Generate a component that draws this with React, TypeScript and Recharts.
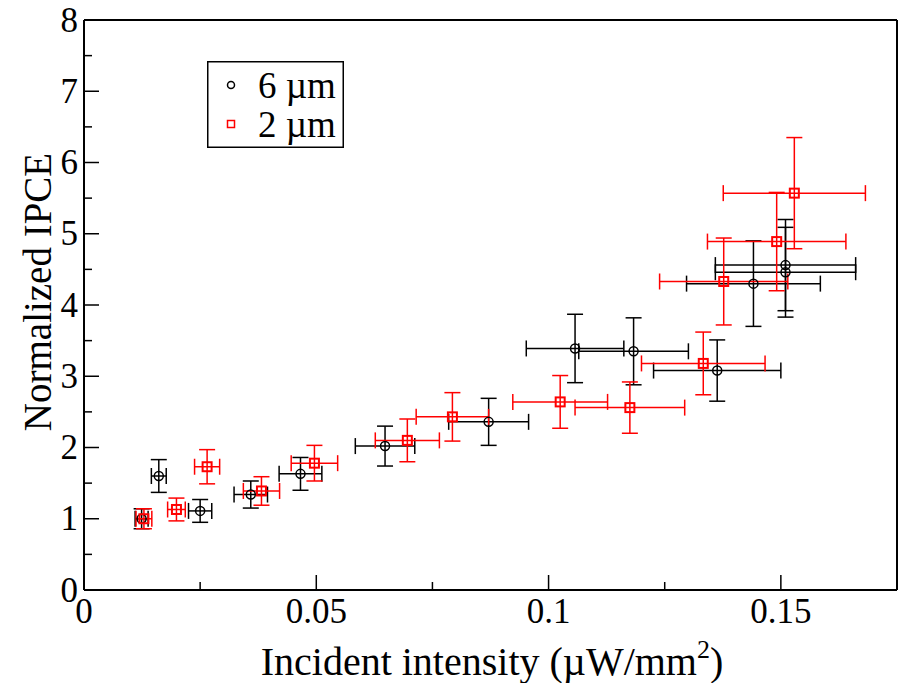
import { ScatterChart, Scatter, XAxis, YAxis, ErrorBar, Legend } from 'recharts';

// 6 µm samples
const sixX = [0.0124, 0.0161, 0.025, 0.0359, 0.0466, 0.0648, 0.0871, 0.1057, 0.1183, 0.1363, 0.1441, 0.151, 0.151];
const sixY = [1.0, 1.6, 1.11, 1.34, 1.63, 2.02, 2.36, 3.39, 3.35, 3.08, 4.3, 4.56, 4.46];
const sixXErr = [0.0014, 0.0016, 0.0025, 0.0036, 0.0046, 0.0064, 0.0086, 0.0105, 0.0118, 0.0137, 0.0144, 0.0151, 0.0151];
const sixYErr = [0.14, 0.23, 0.16, 0.19, 0.23, 0.28, 0.33, 0.48, 0.47, 0.43, 0.6, 0.64, 0.63];

// 2 µm samples
const twoX = [0.0129, 0.0199, 0.0265, 0.0382, 0.0496, 0.0696, 0.0793, 0.1025, 0.1175, 0.1333, 0.1377, 0.1491, 0.1529];
const twoY = [1.0, 1.13, 1.73, 1.39, 1.78, 2.1, 2.43, 2.64, 2.56, 3.18, 4.33, 4.89, 5.57];
const twoXErr = [0.0017, 0.0019, 0.0027, 0.0039, 0.005, 0.0069, 0.0078, 0.0102, 0.0118, 0.0133, 0.0138, 0.0149, 0.0153];
const twoYErr = [0.14, 0.16, 0.24, 0.2, 0.25, 0.3, 0.34, 0.37, 0.36, 0.44, 0.61, 0.69, 0.78];

const xTicks = [0, 0.025, 0.05, 0.075, 0.1, 0.125, 0.15];
const yTicks = [0, 0.5, 1, 1.5, 2, 2.5, 3, 3.5, 4, 4.5, 5, 5.5, 6, 6.5, 7, 7.5, 8];

const FONT = '"Liberation Serif", "DejaVu Serif", serif';

const six = sixX.map((x, i) => ({ x, y: sixY[i], ex: sixXErr[i], ey: sixYErr[i] }));
const two = twoX.map((x, i) => ({ x, y: twoY[i], ex: twoXErr[i], ey: twoYErr[i] }));

const isMajorX = (v: number) => Math.abs(v / 0.05 - Math.round(v / 0.05)) < 1e-6;
const isMajorY = (v: number) => Math.abs(v - Math.round(v)) < 1e-6;

function BottomTick({ x, y, payload }: any) {
  const major = isMajorX(payload.value);
  return (
    <g>
      <line x1={x} x2={x} y1={y} y2={y - (major ? 15 : 8)} stroke="#000" strokeWidth={1.5} />
      {major && (
        <text x={x} y={y + 33} textAnchor="middle" fontSize={35} fontFamily={FONT} fill="#000">
          {String(payload.value)}
        </text>
      )}
    </g>
  );
}

function TopTick({ x, y, payload }: any) {
  const major = isMajorX(payload.value);
  return <line x1={x} x2={x} y1={y} y2={y + (major ? 15 : 8)} stroke="#000" strokeWidth={1.5} />;
}

function LeftTick({ x, y, payload }: any) {
  const major = isMajorY(payload.value);
  return (
    <g>
      <line x1={x} x2={x + (major ? 15 : 8)} y1={y} y2={y} stroke="#000" strokeWidth={1.5} />
      {major && (
        <text x={x - 6} y={y} textAnchor="end" dominantBaseline="central" fontSize={35} fontFamily={FONT} fill="#000">
          {String(payload.value)}
        </text>
      )}
    </g>
  );
}

function RightTick({ x, y, payload }: any) {
  const major = isMajorY(payload.value);
  return <line x1={x} x2={x - (major ? 15 : 8)} y1={y} y2={y} stroke="#000" strokeWidth={1.5} />;
}

function CircleMark({ cx, cy }: any) {
  return <circle cx={cx} cy={cy} r={4.5} fill="none" stroke="#000" strokeWidth={1.5} />;
}

function SquareMark({ cx, cy }: any) {
  return <rect x={cx - 4.5} y={cy - 4.5} width={9} height={9} fill="none" stroke="#ff0000" strokeWidth={2} />;
}

function LegendBox() {
  return (
    <svg width={137} height={87} style={{ display: 'block' }}>
      <rect x={0.75} y={0.75} width={135.5} height={85.5} fill="#fff" stroke="#000" strokeWidth={1.5} />
      <circle cx={24} cy={24} r={3.5} fill="none" stroke="#000" strokeWidth={1.5} />
      <text x={51} y={24} dominantBaseline="central" fontSize={37} fontFamily={FONT} fill="#000">6 µm</text>
      <rect x={20.5} y={59.5} width={7} height={7} fill="none" stroke="#ff0000" strokeWidth={1.5} />
      <text x={51} y={63} dominantBaseline="central" fontSize={37} fontFamily={FONT} fill="#000">2 µm</text>
    </svg>
  );
}

export default function App() {
  return (
    <div style={{ position: 'absolute', left: 0, top: 0 }}>
      <ScatterChart width={899} height={683} margin={{ top: 0, right: 0, bottom: 0, left: 0 }}>
        <XAxis
          type="number"
          dataKey="x"
          domain={[0, 0.175]}
          ticks={xTicks}
          height={93}
          tickSize={0}
          tickMargin={0}
          tick={<BottomTick />}
          axisLine={{ stroke: '#000', strokeWidth: 2 }}
          tickLine={false}
          interval={0}
          label={() => (
            <text x={492} y={675} textAnchor="middle" fontSize={40} fontFamily={FONT} fill="#000">
              Incident intensity (µW/mm<tspan dy={-17} fontSize={26}>2</tspan><tspan dy={17}>)</tspan>
            </text>
          )}
        />
        <XAxis
          xAxisId="top"
          orientation="top"
          type="number"
          domain={[0, 0.175]}
          ticks={xTicks}
          height={20}
          tickSize={0}
          tickMargin={0}
          tick={<TopTick />}
          axisLine={{ stroke: '#000', strokeWidth: 2 }}
          tickLine={false}
          interval={0}
        />
        <YAxis
          type="number"
          dataKey="y"
          domain={[0, 8]}
          ticks={yTicks}
          width={84}
          tickSize={0}
          tickMargin={0}
          tick={<LeftTick />}
          axisLine={{ stroke: '#000', strokeWidth: 2 }}
          tickLine={false}
          interval={0}
          label={() => (
            <text
              x={0}
              y={0}
              transform="translate(51 292) rotate(-90)"
              textAnchor="middle"
              fontSize={39}
              fontFamily={FONT}
              fill="#000"
            >
              Normalized IPCE
            </text>
          )}
        />
        <YAxis
          yAxisId="right"
          orientation="right"
          type="number"
          domain={[0, 8]}
          ticks={yTicks}
          width={2}
          tickSize={0}
          tickMargin={0}
          tick={<RightTick />}
          axisLine={{ stroke: '#000', strokeWidth: 2 }}
          tickLine={false}
          interval={0}
        />
        <Legend
          layout="horizontal"
          verticalAlign="middle"
          align="center"
          wrapperStyle={{ left: 207, top: 61, width: 137, height: 87 }}
          content={() => <LegendBox />}
        />
        <Scatter name="6 µm" data={six} shape={<CircleMark />} isAnimationActive={false}>
          <ErrorBar dataKey="ex" direction="x" width={8} stroke="#000" strokeWidth={1.5} />
          <ErrorBar dataKey="ey" direction="y" width={8} stroke="#000" strokeWidth={1.5} />
        </Scatter>
        <Scatter name="2 µm" data={two} shape={<SquareMark />} isAnimationActive={false}>
          <ErrorBar dataKey="ex" direction="x" width={8} stroke="#ff0000" strokeWidth={1.5} />
          <ErrorBar dataKey="ey" direction="y" width={8} stroke="#ff0000" strokeWidth={1.5} />
        </Scatter>
      </ScatterChart>
    </div>
  );
}
